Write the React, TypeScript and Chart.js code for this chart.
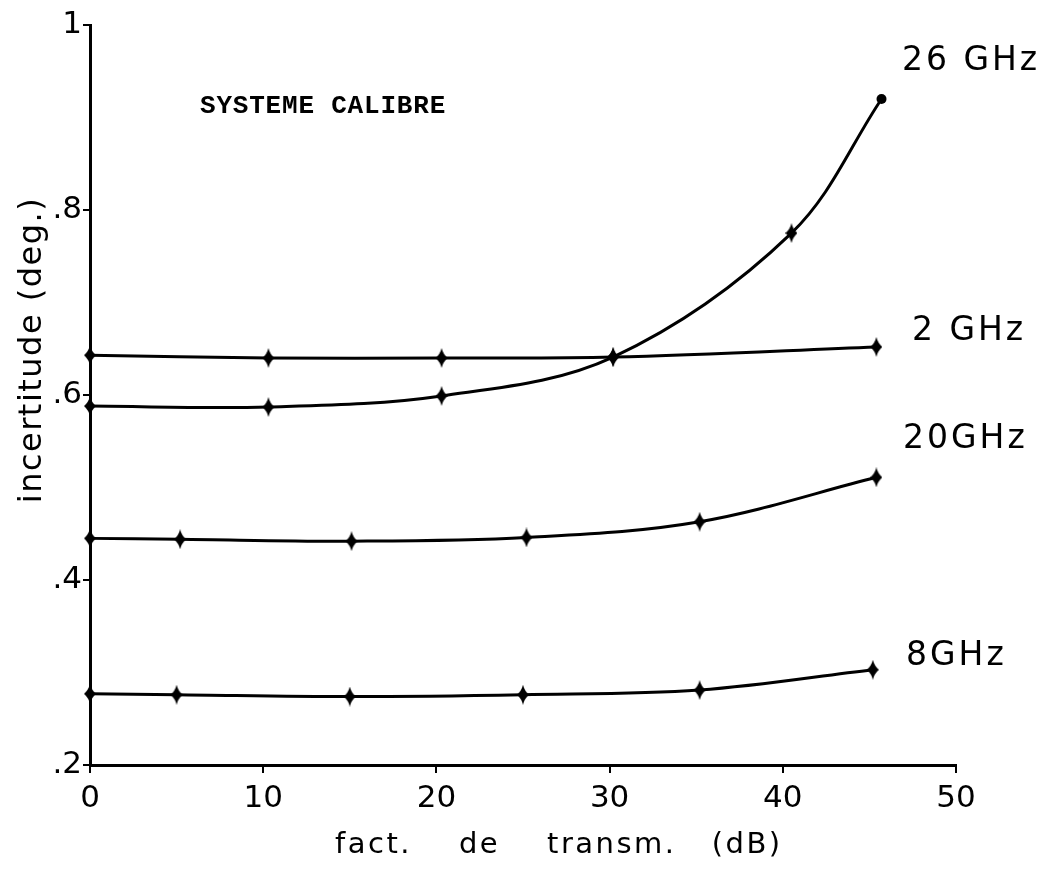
import React, { useEffect, useRef } from "react";
import { Chart, registerables } from "chart.js";

Chart.register(...registerables);

// ---- data ----
const xTickValues = [0, 10, 20, 30, 40, 50];
const yTickValues = [0.2, 0.4, 0.6, 0.8, 1];

const x2GHz = [0, 10.3, 20.3, 30.2, 45.4];
const y2GHz = [0.643, 0.64, 0.64, 0.641, 0.652];

const x26GHz = [0, 10.3, 20.3, 30.2, 40.5, 45.7];
const y26GHz = [0.588, 0.587, 0.599, 0.641, 0.775, 0.92];

const x20GHz = [0, 5.2, 15.1, 25.2, 35.2, 45.4];
const y20GHz = [0.445, 0.444, 0.442, 0.446, 0.463, 0.511];

const x8GHz = [0, 5.0, 15.0, 25.0, 35.2, 45.2];
const y8GHz = [0.277, 0.276, 0.274, 0.276, 0.281, 0.303];

const seriesNames = ["26 GHz", "2 GHz", "20GHz", "8GHz"];
const annotationText = "SYSTEME CALIBRE";
const xTitle = "fact.    de    transm.   (dB)";
const yTitle = "incertitude (deg.)";

const FONT = "'DejaVu Sans', sans-serif";

function toPoints(xs: number[], ys: number[]) {
  return xs.map((x, i) => ({ x, y: ys[i] }));
}

function makeDiamond(w: number, h: number) {
  const c = document.createElement("canvas");
  c.width = w;
  c.height = h;
  const g = c.getContext("2d")!;
  g.fillStyle = "#000";
  g.beginPath();
  g.moveTo(w / 2, 0);
  g.quadraticCurveTo(w * 0.62, h * 0.3, w, h / 2);
  g.quadraticCurveTo(w * 0.62, h * 0.7, w / 2, h);
  g.quadraticCurveTo(w * 0.38, h * 0.7, 0, h / 2);
  g.quadraticCurveTo(w * 0.38, h * 0.3, w / 2, 0);
  g.closePath();
  g.fill();
  return c;
}

const textPlugin = {
  id: "textPlugin",
  afterDraw(chart: any) {
    const ctx = chart.ctx as CanvasRenderingContext2D;
    ctx.save();
    ctx.fillStyle = "#000";

    // annotation
    ctx.font = `bold 26px 'Liberation Mono', monospace`;
    (ctx as any).letterSpacing = "0.8px";
    ctx.textAlign = "left";
    ctx.textBaseline = "middle";
    ctx.fillText(annotationText, 200, 106);

    // series labels
    ctx.font = `33px ${FONT}`;
    (ctx as any).letterSpacing = "3px";
    const labelPos = [
      [902, 61],
      [912, 331],
      [903, 439],
      [906, 656],
    ];
    seriesNames.forEach((s, i) => {
      ctx.fillText(s, labelPos[i][0], labelPos[i][1]);
    });

    // x title
    ctx.font = `29px ${FONT}`;
    (ctx as any).letterSpacing = "2.5px";
    ctx.textBaseline = "alphabetic";
    ctx.fillText(xTitle, 335, 853);

    // y title
    ctx.font = `32px ${FONT}`;
    (ctx as any).letterSpacing = "1.5px";
    ctx.translate(41, 350);
    ctx.rotate(-Math.PI / 2);
    ctx.textAlign = "center";
    ctx.textBaseline = "alphabetic";
    ctx.fillText(yTitle, 0, 0);
    ctx.restore();
  },
};

export default function App() {
  const ref = useRef<HTMLCanvasElement | null>(null);

  useEffect(() => {
    if (!ref.current) return;
    const diamond = makeDiamond(12, 20);
    const common = {
      borderColor: "#000",
      backgroundColor: "#000",
      borderWidth: 3,
      pointRadius: 5,
      pointBackgroundColor: "#000",
      pointBorderColor: "#000",
      pointBorderWidth: 0,
      tension: 0.35,
      clip: false as any,
      showLine: true,
    };
    const chart = new Chart(ref.current, {
      type: "scatter",
      data: {
        datasets: [
          {
            ...common,
            label: seriesNames[0],
            data: toPoints(x26GHz, y26GHz),
            pointStyle: x26GHz.map((_, i) => (i === x26GHz.length - 1 ? "circle" : diamond)) as any,
          },
          { ...common, label: seriesNames[1], data: toPoints(x2GHz, y2GHz), pointStyle: diamond as any },
          { ...common, label: seriesNames[2], data: toPoints(x20GHz, y20GHz), pointStyle: diamond as any },
          { ...common, label: seriesNames[3], data: toPoints(x8GHz, y8GHz), pointStyle: diamond as any },
        ],
      },
      options: {
        animation: false,
        responsive: false,
        layout: { padding: { left: 0, top: 25, right: 85, bottom: 0 } },
        plugins: { legend: { display: false }, tooltip: { enabled: false } },
        scales: {
          x: {
            type: "linear",
            min: 0,
            max: 50,
            afterBuildTicks: (s: any) => {
              s.ticks = xTickValues.map((v) => ({ value: v }));
            },
            afterFit: (s: any) => {
              s.height = 107;
            },
            grid: { drawOnChartArea: false, drawTicks: true, tickLength: 8, color: "#000", lineWidth: 2 },
            border: { display: true, color: "#000", width: 3 },
            ticks: { color: "#000", font: { family: FONT, size: 31 }, padding: 7, maxRotation: 0 },
          },
          y: {
            type: "linear",
            min: 0.2,
            max: 1,
            afterBuildTicks: (s: any) => {
              s.ticks = yTickValues.map((v) => ({ value: v }));
            },
            afterFit: (s: any) => {
              s.width = 90;
            },
            grid: { drawOnChartArea: false, drawTicks: true, tickLength: 7, color: "#000", lineWidth: 2 },
            border: { display: true, color: "#000", width: 3 },
            ticks: {
              color: "#000",
              font: { family: FONT, size: 31 },
              padding: 1,
              callback: (v: any) => {
                const n = Number(v);
                if (Math.abs(n - 1) < 1e-9) return "1";
                return n.toFixed(1).replace(/^0/, "");
              },
            },
          },
        },
      },
      plugins: [textPlugin],
    });
    return () => chart.destroy();
  }, []);

  return (
    <div style={{ position: "fixed", left: 0, top: 0, width: 1041, height: 872, background: "#fff" }}>
      <canvas ref={ref} width={1041} height={872} style={{ display: "block" }} />
    </div>
  );
}
